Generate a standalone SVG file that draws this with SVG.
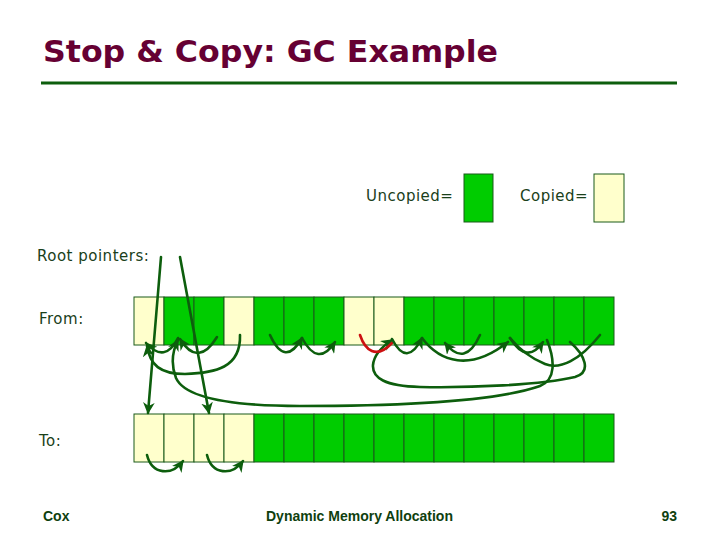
<svg xmlns="http://www.w3.org/2000/svg" width="720" height="540" viewBox="0 0 720 540">
<style>
.title{font-family:"DejaVu Sans","Liberation Sans",sans-serif;font-weight:bold;font-size:30px;fill:#660033}
.lbl{font-family:"DejaVu Sans","Liberation Sans",sans-serif;font-size:15px;letter-spacing:0.5px;fill:#1a401a}
.foot{font-family:"Liberation Sans",Arial,sans-serif;font-size:14px;font-weight:bold;fill:#0f3f0f}
.u{fill:#00cc00;stroke:#1a5a1a;stroke-width:1}
.c{fill:#ffffcc;stroke:#1a5a1a;stroke-width:1}
.ar{fill:none;stroke:#0d5e0d;stroke-width:2.6;stroke-linecap:round;marker-end:url(#ah)}
.ln{fill:none;stroke:#0d5e0d;stroke-width:2.6;stroke-linecap:round}
.red{fill:none;stroke:#cc1111;stroke-width:2.6;stroke-linecap:round}
</style>
<defs>
<marker id="ah" viewBox="0 0 10 10" refX="9" refY="5" markerWidth="4.5" markerHeight="4.5" orient="auto" markerUnits="strokeWidth">
<path d="M0,0 L10,5 L0,10 L3,5 z" fill="#0d5e0d"/>
</marker>
</defs>
<rect width="720" height="540" fill="#ffffff"/>
<text class="title" x="43" y="62" textLength="455" lengthAdjust="spacingAndGlyphs">Stop &amp; Copy: GC Example</text>
<line x1="41" y1="83" x2="677" y2="83" stroke="#0d5e0d" stroke-width="3"/>

<g id="legend-uncopied">
<text class="lbl" x="366" y="201">Uncopied=</text>
<rect class="u" x="464" y="174" width="29" height="48"/>
</g>
<g id="legend-copied">
<text class="lbl" x="520" y="201">Copied=</text>
<rect class="c" x="594" y="174" width="30" height="48"/>
</g>

<text class="lbl" x="37" y="261">Root pointers:</text>
<text class="lbl" x="39" y="324">From:</text>
<text class="lbl" x="39" y="446">To:</text>

<g id="from-row">
<g id="from-0"><rect class="c" x="134" y="297" width="30" height="48"/></g>
<g id="from-1"><rect class="u" x="164" y="297" width="30" height="48"/></g>
<g id="from-2"><rect class="u" x="194" y="297" width="30" height="48"/></g>
<g id="from-3"><rect class="c" x="224" y="297" width="30" height="48"/></g>
<g id="from-4"><rect class="u" x="254" y="297" width="30" height="48"/></g>
<g id="from-5"><rect class="u" x="284" y="297" width="30" height="48"/></g>
<g id="from-6"><rect class="u" x="314" y="297" width="30" height="48"/></g>
<g id="from-7"><rect class="c" x="344" y="297" width="30" height="48"/></g>
<g id="from-8"><rect class="c" x="374" y="297" width="30" height="48"/></g>
<g id="from-9"><rect class="u" x="404" y="297" width="30" height="48"/></g>
<g id="from-10"><rect class="u" x="434" y="297" width="30" height="48"/></g>
<g id="from-11"><rect class="u" x="464" y="297" width="30" height="48"/></g>
<g id="from-12"><rect class="u" x="494" y="297" width="30" height="48"/></g>
<g id="from-13"><rect class="u" x="524" y="297" width="30" height="48"/></g>
<g id="from-14"><rect class="u" x="554" y="297" width="30" height="48"/></g>
<g id="from-15"><rect class="u" x="584" y="297" width="30" height="48"/></g>
</g>

<g id="to-row">
<g id="to-0"><rect class="c" x="134" y="414" width="30" height="48"/></g>
<g id="to-1"><rect class="c" x="164" y="414" width="30" height="48"/></g>
<g id="to-2"><rect class="c" x="194" y="414" width="30" height="48"/></g>
<g id="to-3"><rect class="c" x="224" y="414" width="30" height="48"/></g>
<g id="to-4"><rect class="u" x="254" y="414" width="30" height="48"/></g>
<g id="to-5"><rect class="u" x="284" y="414" width="30" height="48"/></g>
<g id="to-6"><rect class="u" x="314" y="414" width="30" height="48"/></g>
<g id="to-7"><rect class="u" x="344" y="414" width="30" height="48"/></g>
<g id="to-8"><rect class="u" x="374" y="414" width="30" height="48"/></g>
<g id="to-9"><rect class="u" x="404" y="414" width="30" height="48"/></g>
<g id="to-10"><rect class="u" x="434" y="414" width="30" height="48"/></g>
<g id="to-11"><rect class="u" x="464" y="414" width="30" height="48"/></g>
<g id="to-12"><rect class="u" x="494" y="414" width="30" height="48"/></g>
<g id="to-13"><rect class="u" x="524" y="414" width="30" height="48"/></g>
<g id="to-14"><rect class="u" x="554" y="414" width="30" height="48"/></g>
<g id="to-15"><rect class="u" x="584" y="414" width="30" height="48"/></g>
</g>

<g id="connectors">
<path class="ar" d="M161,257 L148,413"/>
<path class="ar" d="M180,257 L209,413"/>
<path class="ar" d="M178,338 Q165,364 146,343"/>
<path class="ar" d="M217,337 Q198,368 180,339"/>
<path class="ar" d="M240,335 C241,368 215,373 185,374 C160,374 150,365 147,346"/>
<path class="ar" d="M547,340 C555,360 556,380 540,386 C500,400 420,406 300,406 C230,406 185,398 176,378 C171,365 172,352 178,340"/>
<path class="ar" d="M570,342 C585,355 592,372 575,377 C540,385 470,388 420,387 C385,386 372,378 373,365 C374,355 383,346 392,340"/>
<path class="red" d="M360,335 C365,350 376,360 392,343"/>
<path class="ar" d="M392,339 Q407,368 422,338"/>
<path class="ar" d="M422,338 C440,362 470,372 508,342"/>
<path class="ar" d="M480,335 Q465,368 445,343"/>
<path class="ar" d="M510,338 Q527,365 543,342"/>
<path class="ln" d="M600,335 C580,360 560,370 545,364 C530,358 520,350 510,338"/>
<path class="ar" d="M270,335 Q285,368 302,338"/>
<path class="ar" d="M302,338 Q318,368 335,342"/>
<path class="ar" d="M147,455 C152,475 172,476 183,461"/>
<path class="ar" d="M207,455 C212,475 232,476 243,461"/>
</g>

<text class="foot" x="43" y="521">Cox</text>
<text class="foot" x="266" y="521">Dynamic Memory Allocation</text>
<text class="foot" x="677" y="521" text-anchor="end">93</text>
</svg>
